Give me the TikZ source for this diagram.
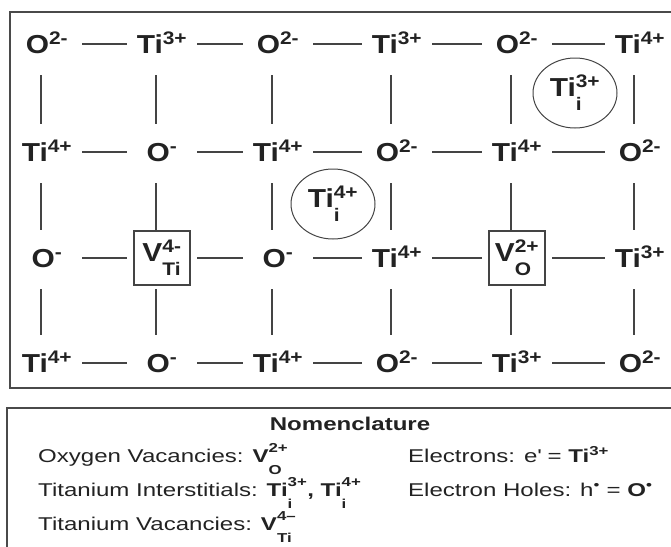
\documentclass[tikz,border=0pt]{standalone}
\usepackage{fontspec}
\setmainfont{Liberation Sans}[FakeStretch=1.15]
\newfontfamily\legendfamily{Liberation Sans}[FakeStretch=1.3]
\usepackage{amsmath}
\usetikzlibrary{shapes.geometric}
\definecolor{Ink}{HTML}{222222}
\definecolor{Bond}{HTML}{444444}
\definecolor{Frame}{HTML}{4A4A4A}
\newcommand{\ionfont}{\fontsize{26}{30}\selectfont\bfseries}
\newcommand{\legfont}{\legendfamily\fontsize{18.5}{22}\selectfont}
% stacked charge / site
\newcommand{\defect}[3]{#1$^{\text{#2}}_{\rule{0pt}{0.72em}\text{#3}}$}
\newcommand{\legdefect}[3]{#1$^{\text{#2}\rule[-0.2em]{0pt}{0pt}}_{\rule{0pt}{0.85em}\text{#3}}$}

\begin{document}
\begin{tikzpicture}[
      x=1pt, y=-1pt,
      every node/.style={text=Ink},
      ion/.style={font=\ionfont, inner sep=0pt, text height=18.5pt, text depth=0pt},
      vacancy/.style={draw=Bond, line width=1.3pt, font=\ionfont, minimum width=56pt, minimum height=54pt, inner sep=0pt},
      interstitial/.style={ellipse, draw=Bond, line width=1pt, font=\ionfont, minimum width=84pt, minimum height=70pt, inner sep=0pt},
      hbond/.style={draw=Bond, line width=1.3pt, shorten <=35pt, shorten >=35pt},
      vbond/.style={draw=Bond, line width=1.3pt, shorten <=31pt, shorten >=28pt, transform canvas={xshift=-6pt}},
      frame/.style={draw=Frame, line width=1.8pt},
      legend/.style={font=\legfont, anchor=base west, inner sep=0pt}
    ]
    \useasboundingbox (0,0) rectangle (671,546);
    \clip (0,0) rectangle (671,546);
    \draw[frame] (10,12) rectangle (700,388);
    \draw[frame] (7,408) rectangle (700,570);

    % lattice
    \node[ion] (o11) at (47,44) {O\textsuperscript{2-}};
    \node[ion] (ti12) at (162,44) {Ti\textsuperscript{3+}};
    \node[ion] (o13) at (278,44) {O\textsuperscript{2-}};
    \node[ion] (ti14) at (397,44) {Ti\textsuperscript{3+}};
    \node[ion] (o15) at (517,44) {O\textsuperscript{2-}};
    \node[ion] (ti16) at (640,44) {Ti\textsuperscript{4+}};

    \node[ion] (ti21) at (47,152) {Ti\textsuperscript{4+}};
    \node[ion] (o22) at (162,152) {O\textsuperscript{-}};
    \node[ion] (ti23) at (278,152) {Ti\textsuperscript{4+}};
    \node[ion] (o24) at (397,152) {O\textsuperscript{2-}};
    \node[ion] (ti25) at (517,152) {Ti\textsuperscript{4+}};
    \node[ion] (o26) at (640,152) {O\textsuperscript{2-}};

    \node[ion] (o31) at (47,258) {O\textsuperscript{-}};
    \node[vacancy] (vti) at (162,258) {\defect{V}{4-}{Ti}};
    \node[ion] (o33) at (278,258) {O\textsuperscript{-}};
    \node[ion] (ti34) at (397,258) {Ti\textsuperscript{4+}};
    \node[vacancy] (vo) at (517,258) {\defect{V}{2+}{O}};
    \node[ion] (ti36) at (640,258) {Ti\textsuperscript{3+}};

    \node[ion] (ti41) at (47,363) {Ti\textsuperscript{4+}};
    \node[ion] (o42) at (162,363) {O\textsuperscript{-}};
    \node[ion] (ti43) at (278,363) {Ti\textsuperscript{4+}};
    \node[ion] (o44) at (397,363) {O\textsuperscript{2-}};
    \node[ion] (ti45) at (517,363) {Ti\textsuperscript{3+}};
    \node[ion] (o46) at (640,363) {O\textsuperscript{2-}};

    % interstitials
    \node[interstitial] (tii3) at (575,93) {\defect{Ti}{3+}{i}};
    \node[interstitial] (tii4) at (333,204) {\defect{Ti}{4+}{i}};

    % bonds
    \draw[hbond] (o11.center) -- (ti12.center);
    \draw[hbond] (ti12.center) -- (o13.center);
    \draw[hbond] (o13.center) -- (ti14.center);
    \draw[hbond] (ti14.center) -- (o15.center);
    \draw[hbond] (o15.center) -- (ti16.center);
    \draw[hbond] (ti21.center) -- (o22.center);
    \draw[hbond] (o22.center) -- (ti23.center);
    \draw[hbond] (ti23.center) -- (o24.center);
    \draw[hbond] (o24.center) -- (ti25.center);
    \draw[hbond] (ti25.center) -- (o26.center);
    \draw[hbond] (o31.center) -- (vti.center);
    \draw[hbond] (vti.center) -- (o33.center);
    \draw[hbond] (o33.center) -- (ti34.center);
    \draw[hbond] (ti34.center) -- (vo.center);
    \draw[hbond] (vo.center) -- (ti36.center);
    \draw[hbond] (ti41.center) -- (o42.center);
    \draw[hbond] (o42.center) -- (ti43.center);
    \draw[hbond] (ti43.center) -- (o44.center);
    \draw[hbond] (o44.center) -- (ti45.center);
    \draw[hbond] (ti45.center) -- (o46.center);

    \draw[vbond] (o11.center) -- (ti21.center);
    \draw[vbond] (ti12.center) -- (o22.center);
    \draw[vbond] (o13.center) -- (ti23.center);
    \draw[vbond] (ti14.center) -- (o24.center);
    \draw[vbond] (o15.center) -- (ti25.center);
    \draw[vbond] (ti16.center) -- (o26.center);
    \draw[vbond] (ti21.center) -- (o31.center);
    \draw[vbond] (o22.center) -- (vti.center);
    \draw[vbond] (ti23.center) -- (o33.center);
    \draw[vbond] (o24.center) -- (ti34.center);
    \draw[vbond] (ti25.center) -- (vo.center);
    \draw[vbond] (o26.center) -- (ti36.center);
    \draw[vbond] (o31.center) -- (ti41.center);
    \draw[vbond] (vti.center) -- (o42.center);
    \draw[vbond] (o33.center) -- (ti43.center);
    \draw[vbond] (ti34.center) -- (o44.center);
    \draw[vbond] (vo.center) -- (ti45.center);
    \draw[vbond] (ti36.center) -- (o46.center);

    % nomenclature
    \node[font=\legfont\bfseries] (title) at (350,424) {Nomenclature};
    \node[legend] (ovac) at (38,462) {Oxygen Vacancies: \textbf{\legdefect{V}{2+}{O}}};
    \node[legend] (tiint) at (38,496) {Titanium Interstitials: \textbf{\legdefect{Ti}{3+}{i}, \legdefect{Ti}{4+}{i}}};
    \node[legend] (tivac) at (38,530) {Titanium Vacancies: \textbf{\legdefect{V}{4\textendash}{Ti}}};
    \node[legend] (elec) at (408,462) {Electrons: e\textquotesingle{} = \textbf{Ti\textsuperscript{3+}}};
    \node[legend] (hole) at (408,496) {Electron Holes: h\textsuperscript{•} = \textbf{O\textsuperscript{•}}};
  \end{tikzpicture}
\end{document}
